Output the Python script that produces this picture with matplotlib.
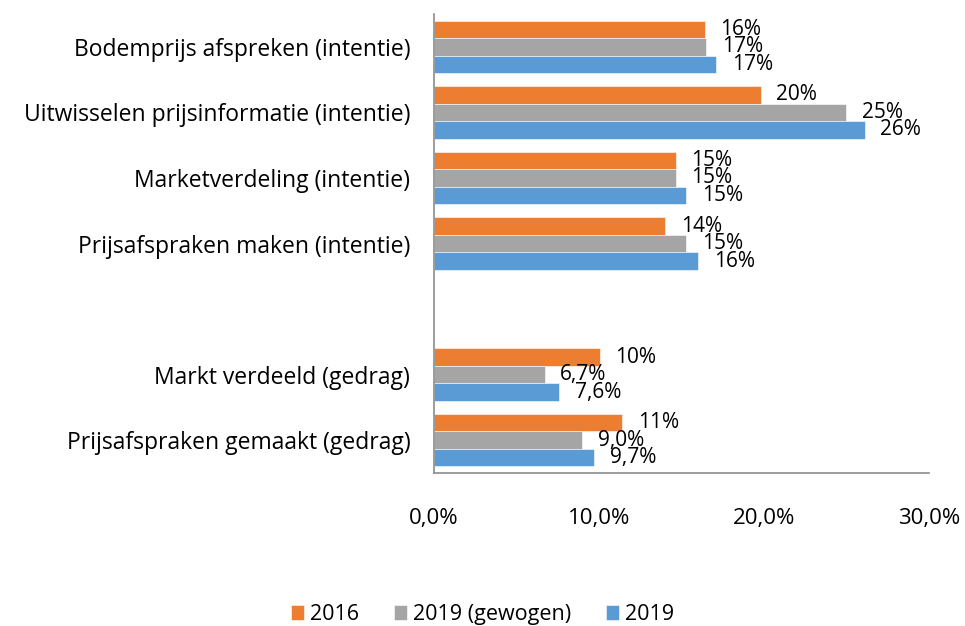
import numpy as np
import matplotlib
matplotlib.use("Agg")
from matplotlib import pyplot as plt
from matplotlib.ticker import FuncFormatter

plt.rcParams['font.family'] = ['Open Sans', 'DejaVu Sans']

categories = ["Bodemprijs afspreken (intentie)", "Uitwisselen prijsinformatie (intentie)",
              "Marketverdeling (intentie)", "Prijsafspraken maken (intentie)", "",
              "Markt verdeeld (gedrag)", "Prijsafspraken gemaakt (gedrag)"]
series = ["2016", "2019 (gewogen)", "2019"]
vals_2016 = [16.4, 19.8, 14.65, 14.0, np.nan, 10.05, 11.4]
vals_gew = [16.5, 25.0, 14.65, 15.3, np.nan, 6.7, 9.0]
vals_2019 = [17.1, 26.1, 15.3, 16.0, np.nan, 7.6, 9.7]
lab_2016 = ["16%", "20%", "15%", "14%", "", "10%", "11%"]
lab_gew = ["17%", "25%", "15%", "15%", "", "6,7%", "9,0%"]
lab_2019 = ["17%", "26%", "15%", "16%", "", "7,6%", "9,7%"]
colors = ["#ED7D31", "#A5A5A5", "#5B9BD5"]

fig = plt.figure(figsize=(9.65, 6.26), dpi=100)
ax = fig.add_axes([0.4497, 0.2444, 0.5130, 0.7332])

y = np.arange(len(categories))
h = 0.267
offsets = [-h, 0, h]
for vals, labs, off, col, name in zip([vals_2016, vals_gew, vals_2019],
                                      [lab_2016, lab_gew, lab_2019],
                                      offsets, colors, series):
    ax.barh(y + off, vals, height=h, color=col, label=name,
            edgecolor="white", linewidth=0.4)
    for yi, v, t in zip(y, vals, labs):
        if t:
            ax.text(v + 0.95, yi + off, t, va="center", ha="left", fontsize=15)

ax.set_ylim(len(categories) - 0.5, -0.5)
ax.set_xlim(0, 30)
ax.set_xticks([0, 10, 20, 30])
ax.xaxis.set_major_formatter(FuncFormatter(lambda v, p: f"{v:.1f}%".replace(".", ",")))
ax.set_yticks(y)
ax.set_yticklabels(categories, fontsize=16.5)
ax.tick_params(axis="y", length=0, pad=17)
ax.tick_params(axis="x", length=0, pad=25, labelsize=16)
for s in ["top", "right"]:
    ax.spines[s].set_visible(False)
for s in ["left", "bottom"]:
    ax.spines[s].set_color("#8c8c8c")
    ax.spines[s].set_linewidth(1.2)

fig.legend(loc="center", bbox_to_anchor=(0.5, 0.018), ncol=3, frameon=False,
           fontsize=15.5, handlelength=0.6, handleheight=0.7, handletextpad=0.3,
           columnspacing=1.6)

fig.savefig("out.png", dpi=100)
